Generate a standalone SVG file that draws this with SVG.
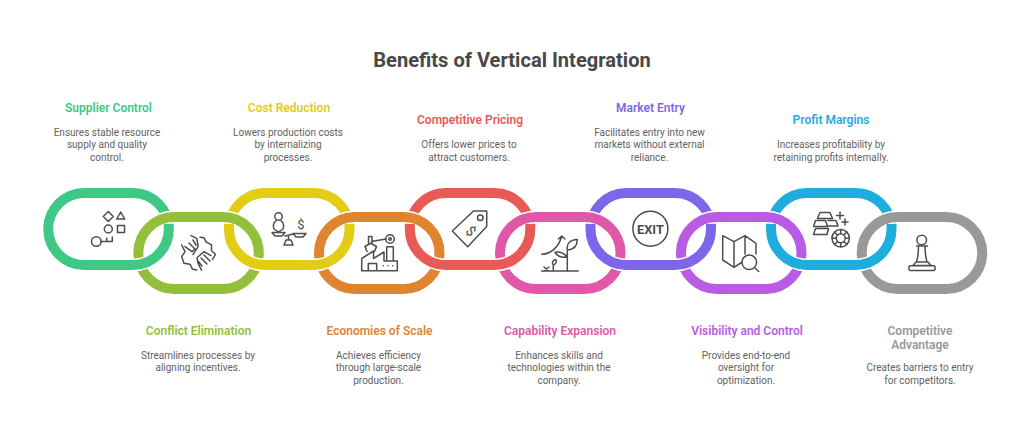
<svg xmlns="http://www.w3.org/2000/svg" width="1024" height="434" viewBox="0 0 1024 434">
<style>
text{font-family:Roboto,"Liberation Sans",sans-serif;text-anchor:middle}
.title{font-size:20.1px;font-weight:700;fill:#484848}
.h{font-size:12px;font-weight:600;stroke:none}
.b{font-size:10px;fill:#626262}
.i{fill:none;stroke:#4d4d4d;stroke-width:1.5;stroke-linejoin:round;stroke-linecap:round}
.gl{fill:#4d4d4d;font-weight:700}
.c1{stroke:#3dc985;fill:#3dc985}.c2{stroke:#93bf3b;fill:#93bf3b}.c3{stroke:#e2cc14;fill:#e2cc14}.c4{stroke:#e0842f;fill:#e0842f}.c5{stroke:#e85a55;fill:#e85a55}.c6{stroke:#e059a8;fill:#e059a8}.c7{stroke:#7e66ea;fill:#7e66ea}.c8{stroke:#b85ce5;fill:#b85ce5}.c9{stroke:#1eaddc;fill:#1eaddc}.c10{stroke:#999;fill:#999}
text.h{stroke:none}
.ring{fill:none;stroke-width:10}
.halo{fill:none;stroke:#fff;stroke-width:13}
</style>
<defs>
<rect id="ring" width="120.5" height="72" rx="36" ry="36"/>
<path id="low" d="M120.5,31V36a36,36 0 0 1 -36,36H36a36,36 0 0 1 -36,-36V31"/>
</defs>
<text class="title" x="512" y="67">Benefits of Vertical Integration</text>

<g id="node-supplier-control">
<use href="#ring" x="48.3" y="193" class="ring c1"/>
<path class="i" d="M108.3,211.5l5,5-5,5-5,-5zM120.7,212l4,7h-8zM117.5,225.5h7v7h-7zM101,241.5H112.3V237M106.7,241.5V238"/>
<circle class="i" cx="108.3" cy="229" r="4"/><circle class="i" cx="96.3" cy="241.5" r="4.8"/>
<text class="h c1" x="108.5" y="112">Supplier Control</text>
<text class="b" x="107" y="136">Ensures stable resource</text><text class="b" x="107" y="148">supply and quality</text><text class="b" x="107" y="160.5">control.</text>
</g>
<g id="node-cost-reduction">
<use href="#ring" x="229" y="193" class="ring c3"/>
<circle class="i" cx="278.5" cy="216.5" r="3.7"/>
<path class="i" d="M276,221c-3,1-3,6-2,8l4.500,3 4.500,-3c1,-2 1,-7-2,-8M272,232.500h13l-3,3.500h-7zM285,236l8,-2M293,233.500h13l-3,3.500h-7zM284,245h9l-2,-5h-5zM288.500,236v4"/>
<text class="gl" x="301" y="229" style="font-size:13px;font-weight:400">$</text>
<text class="h c3" x="289" y="112">Cost Reduction</text>
<text class="b" x="288" y="136">Lowers production costs</text><text class="b" x="288" y="148">by internalizing</text><text class="b" x="288" y="160.5">processes.</text>
</g>
<g id="node-competitive-pricing">
<use href="#ring" x="409.8" y="193" class="ring c5"/>
<path class="i" d="M473.500,211H486.700V226.500L467.700,246.700 452.300,231Z"/><circle class="i" cx="480.300" cy="217.700" r="2.800"/>
<text class="gl" x="0" y="0" transform="translate(467.500,234.500) rotate(45)" style="font-size:14px;font-weight:400">$</text>
<text class="h c5" x="470" y="124">Competitive Pricing</text>
<text class="b" x="469" y="148">Offers lower prices to</text><text class="b" x="469" y="160.5">attract customers.</text>
</g>
<g id="node-market-entry">
<use href="#ring" x="590.5" y="193" class="ring c7"/>
<circle class="i" cx="650.4" cy="228.7" r="17.5"/>
<text class="gl" x="650.4" y="233.5" textLength="27" lengthAdjust="spacingAndGlyphs" style="font-size:13px">EXIT</text>
<text class="h c7" x="650.5" y="112">Market Entry</text>
<text class="b" x="649.5" y="136">Facilitates entry into new</text><text class="b" x="649.5" y="148">markets without external</text><text class="b" x="649.5" y="160.5">reliance.</text>
</g>
<g id="node-profit-margins">
<use href="#ring" x="771" y="193" class="ring c9"/>
<path class="i" d="M820,212.500h10l2.500,6h-15zM815.500,220.500h10l2,6h-14zM828,220.500h8l2,5.500h-10M815.500,228.500l-2,6h13.500l1.500,-6z"/>
<path class="i" d="M840,212v7M836.500,215.500h7M845,219v6M842,222h6"/>
<circle class="i" cx="840.7" cy="238.3" r="8.700"/><circle class="i" cx="840.7" cy="238.3" r="4.500"/>
<path class="i" d="M840.700,229.600v4M840.700,242.800v4M832,238.300h4M845.200,238.300h4M834.500,232l3,3M843.900,241.500l3,3M846.900,232l-3,3M837.500,241.500l-3,3"/>
<text class="h c9" x="831" y="124">Profit Margins</text>
<text class="b" x="831" y="148">Increases profitability by</text><text class="b" x="831" y="160.5">retaining profits internally.</text>
</g>

<g id="node-conflict-elimination">
<use href="#ring" x="138.3" y="217" class="halo"/>
<use href="#ring" x="138.3" y="217" class="ring c2"/>
<path class="i" d="M200,237.300l4,.5 2,4 5.500,3 0,6 4,3.500-3,5M181.700,245l3.300,6.700-3.300,5 2.300,6.500 6,1 2.300,4.700 4.400,1M191,235.700l6,3 1,8-5,8M185,246.700l7,5 3,-3M189,243l5,5M193,240l3,5M211,255.700l-7,-4-7,6 1,5.500 3.500,7M204,255l6,6M201,258l6,6M198,261l4,5"/>
<text class="h c2" x="198.5" y="335">Conflict Elimination</text>
<text class="b" x="198" y="359">Streamlines processes by</text><text class="b" x="198" y="371">aligning incentives.</text>
</g>
<g id="node-economies-of-scale">
<use href="#ring" x="319" y="217" class="halo"/>
<use href="#ring" x="319" y="217" class="ring c4"/>
<path class="i" d="M361.700,270.700V258.500L373.500,251V258.500L384,252V261H397.300V270.700ZM368.300,270.700V263.500H376.700V270.700M386.700,261V246.700H393.300V261M371.500,241.500 386,239M368.500,236.500h3.500v7h-3.500zM370,243.500l-5,3 2,5M371,243.500l5.500,3-2,5"/>
<circle class="i" cx="390" cy="239" r="4.3"/><circle class="i" cx="390" cy="239" r="1.3"/>
<path class="i" d="M383.300,265.700h.1M388,265.700h.1M392.700,265.700h.1"/>
<text class="h c4" x="379.5" y="335">Economies of Scale</text>
<text class="b" x="378.5" y="359">Achieves efficiency</text><text class="b" x="378.5" y="371">through large-scale</text><text class="b" x="378.5" y="383.5">production.</text>
</g>
<g id="node-capability-expansion">
<use href="#ring" x="500" y="217" class="halo"/>
<use href="#ring" x="500" y="217" class="ring c6"/>
<path class="i" d="M541.700,271H578.300M567.300,271V250M541.700,254.300C551,254 559,247 561.700,236M558.500,239l3.200,-3 3.300,3M567.300,250c-1,-7 3,-10 10,-10.500 0,6-3,10-10,10.500ZM566.700,256.700c-3,-4-7,-5-11.700,-4.500 2,4 7,6 11.700,4.500ZM553.300,271V265M553.300,265c-2,-3 0,-5 2.500,-5.500 1,2 0,5-2.500,5.500ZM544,267l5,4M549,267l-5,4"/>
<text class="h c6" x="560" y="335">Capability Expansion</text>
<text class="b" x="559" y="359">Enhances skills and</text><text class="b" x="559" y="371">technologies within the</text><text class="b" x="559" y="383.5">company.</text>
</g>
<g id="node-visibility-and-control">
<use href="#ring" x="681" y="217" class="halo"/>
<use href="#ring" x="681" y="217" class="ring c8"/>
<path class="i" d="M722.700,235.700V260L734,267.300 741.500,262.500M722.700,235.700L734,241.700 745,235.700 756,243.300V254M734,241.700V267.300M745,235.700V254M754.500,267.500L758.700,271.500"/>
<circle class="i" cx="749.3" cy="262.3" r="7.3"/>
<text class="h c8" x="747" y="335">Visibility and Control</text>
<text class="b" x="746" y="359">Provides end-to-end</text><text class="b" x="746" y="371">oversight for</text><text class="b" x="746" y="383.5">optimization.</text>
</g>
<g id="node-competitive-advantage">
<use href="#ring" x="861.7" y="217" class="halo"/>
<use href="#ring" x="861.7" y="217" class="ring c10"/>
<circle class="i" cx="921.7" cy="240" r="4.8"/>
<path class="i" d="M916.500,246h11M918.500,246c0,6-.5,11-2,16M925,246c0,6 .5,11 2,16M916,262h12l3,3.500h-18zM910,265.700h24c1.500,0 1.500,4.800 0,4.800h-24c-1.500,0-1.500,-4.800 0,-4.800Z"/>
<text class="h c10" x="920" y="334.500">Competitive</text><text class="h c10" x="920" y="349">Advantage</text>
<text class="b" x="920" y="371">Creates barriers to entry</text><text class="b" x="920" y="383.5">for competitors.</text>
</g>

<g id="connectors">
<g transform="translate(48.3,193)"><use href="#low" class="halo"/><use href="#low" class="ring c1"/></g>
<g transform="translate(229,193)"><use href="#low" class="halo"/><use href="#low" class="ring c3"/></g>
<g transform="translate(409.8,193)"><use href="#low" class="halo"/><use href="#low" class="ring c5"/></g>
<g transform="translate(590.5,193)"><use href="#low" class="halo"/><use href="#low" class="ring c7"/></g>
<g transform="translate(771,193)"><use href="#low" class="halo"/><use href="#low" class="ring c9"/></g>
</g>
</svg>
